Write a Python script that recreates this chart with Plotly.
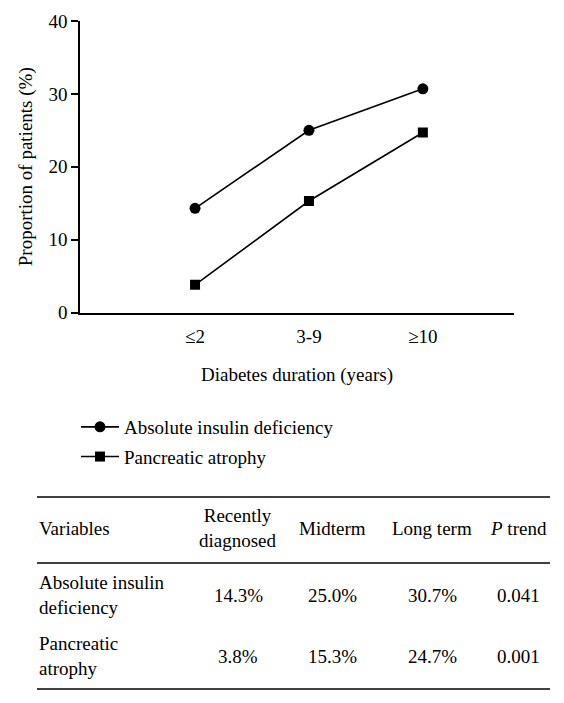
import plotly.graph_objects as go

categories = ["≤2", "3-9", "≥10"]
absolute_insulin = [14.3, 25.0, 30.7]
pancreatic_atrophy = [3.8, 15.3, 24.7]
series_names = ["Absolute insulin deficiency", "Pancreatic atrophy"]
y_ticks = [0, 10, 20, 30, 40]

table_header = ["Variables", "Recently<br>diagnosed", "Midterm", "Long term", "<i>P</i> trend"]
table_rows = [
    ["Absolute insulin<br>deficiency", "14.3%", "25.0%", "30.7%", "0.041"],
    ["Pancreatic<br>atrophy", "3.8%", "15.3%", "24.7%", "0.001"],
]

# page has an 8px body margin; figure sized to fit the window
OFF = 8
W, H = 564 - OFF, 703 - OFF
FONT = "Liberation Serif"
FS = 19

def py(px):
    return 1 - (px - OFF) / H

def pxx(px):
    return (px - OFF) / W

fig = go.Figure()
xidx = list(range(len(categories)))
fig.add_trace(go.Scatter(
    x=xidx, y=absolute_insulin, name=series_names[0], mode="lines+markers",
    line=dict(color="black", width=1.6), marker=dict(symbol="circle", size=11, color="black"),
    legendgroup="a"))
fig.add_trace(go.Scatter(
    x=xidx, y=pancreatic_atrophy, name=series_names[1], mode="lines+markers",
    line=dict(color="black", width=1.6), marker=dict(symbol="square", size=10, color="black"),
    legendgroup="b"))

fig.update_layout(
    width=W, height=H, margin=dict(l=0, r=0, t=0, b=0, autoexpand=False),
    paper_bgcolor="white", plot_bgcolor="white",
    font=dict(family=FONT, size=FS, color="black"),
    showlegend=True,
    legend=dict(x=pxx(76), y=py(408), xanchor="left", yanchor="top",
                font=dict(family=FONT, size=FS, color="black"),
                itemwidth=38,
                tracegroupgap=2, bgcolor="rgba(0,0,0,0)"),
    xaxis=dict(domain=[pxx(80), pxx(514)], range=[-1.01, 2.8], automargin=False,
               tickvals=xidx, ticktext=categories, showgrid=False, zeroline=False,
               showline=True, linecolor="black", linewidth=1.6, ticks="",
               ticklabelstandoff=6,
               tickfont=dict(family=FONT, size=FS), anchor="y",
               title=dict(text="Diabetes duration (years)", font=dict(family=FONT, size=FS), standoff=22)),
    yaxis=dict(domain=[py(312.5), py(21)], range=[0, 40], tickvals=y_ticks, automargin=False,
               showgrid=False, zeroline=False, showline=True, linecolor="black", linewidth=1.6,
               ticks="outside", ticklen=7, tickwidth=1.6, tickcolor="black",
               tickfont=dict(family=FONT, size=FS), anchor="x",
               title=dict(text="Proportion of patients (%)", font=dict(family=FONT, size=FS), standoff=11)),
)

# Table lines
left, right = 37, 550
for yl in [497, 563, 689]:
    fig.add_shape(type="line", xref="paper", yref="paper", x0=pxx(left), x1=pxx(right),
                  y0=py(yl), y1=py(yl), line=dict(color="black", width=1.6))

col_x = [37, 238, 332, 432, 518]
header_y = 528
row_y = [595, 656]

for i, txt in enumerate(table_header):
    fig.add_annotation(x=pxx(col_x[i]), y=py(header_y), xref="paper", yref="paper",
                       text=txt, showarrow=False,
                       xanchor="left" if i == 0 else "center", yanchor="middle",
                       align="left" if i == 0 else "center",
                       font=dict(family=FONT, size=FS))

for r, row in enumerate(table_rows):
    for i, txt in enumerate(row):
        fig.add_annotation(x=pxx(col_x[i]), y=py(row_y[r]), xref="paper", yref="paper",
                           text=txt, showarrow=False,
                           xanchor="left" if i == 0 else "center", yanchor="middle",
                           align="left" if i == 0 else "center",
                           font=dict(family=FONT, size=FS))

fig.write_html("out.html")
